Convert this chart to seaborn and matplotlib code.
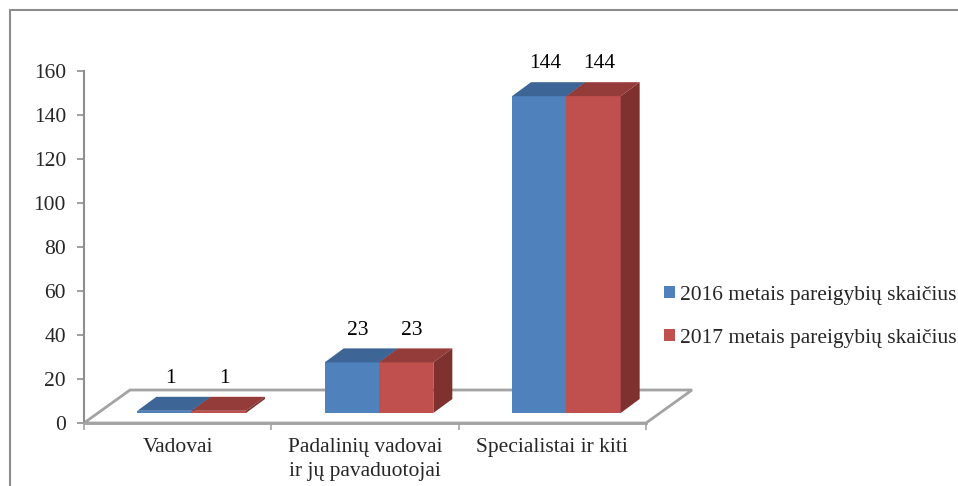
import pandas as pd
import matplotlib
matplotlib.use('Agg')
import matplotlib.pyplot as plt
import seaborn as sns
from matplotlib.patches import Polygon, Patch
from matplotlib.lines import Line2D

# Chart data
categories = ['Vadovai', 'Padalinių vadovai\nir jų pavaduotojai', 'Specialistai ir kiti']
series = ['2016 metais pareigybių skaičius', '2017 metais pareigybių skaičius']
values_2016 = [1, 23, 144]
values_2017 = [1, 23, 144]
yticks = [0, 20, 40, 60, 80, 100, 120, 140, 160]

# Excel-like 3D colours (front, top, side)
front_colors = ['#4F81BD', '#C0504D']
top_colors = ['#3D6596', '#943C3A']
side_colors = ['#34567F', '#7E312F']

df = pd.DataFrame({
    'cat': categories * 2,
    'series': [series[0]] * len(categories) + [series[1]] * len(categories),
    'value': values_2016 + values_2017,
})

sns.set_style('white')
plt.rcParams['font.family'] = ['Liberation Serif', 'DejaVu Serif']
FS = 15.5

W, H = 958, 486
fig = plt.figure(figsize=(W / 100, H / 100), dpi=100)
ax = fig.add_axes([84 / W, (H - 423) / H, (646 - 84) / W, (423 - 71) / H])

sns.barplot(data=df, x='cat', y='value', hue='series', palette=front_colors,
            width=0.58, saturation=1, errorbar=None, legend=False, ax=ax)

ax.set_xlim(-0.5, 2.5)
ax.set_ylim(0, 160)

# pixel -> data conversions for the fake 3D depth
px_x = (646 - 84) / 3
px_y = (423 - 71) / 160
floor_dx, floor_dy = 46 / px_x, 33 / px_y
bar_x0, bar_y0 = 14 / px_x, 10 / px_y
bar_dx, bar_dy = 19 / px_x, 14 / px_y

grid_gray = '#A3A3A3'
axis_gray = '#8E8E8E'

# floor
floor = Polygon([(-0.5, 0), (2.5, 0), (2.5 + floor_dx, floor_dy), (-0.5 + floor_dx, floor_dy)],
                closed=True, fill=False, edgecolor=grid_gray, lw=2, zorder=1, clip_on=False)
ax.add_patch(floor)

# turn the flat bars into boxes
n = len(categories)
bars = [p for p in ax.patches if not isinstance(p, Polygon)]
for i, p in enumerate(bars):
    s = i // n
    z = 3 + s
    x0 = p.get_x() + bar_x0
    w = p.get_width()
    h = p.get_height()
    p.set_x(x0)
    p.set_y(bar_y0)
    p.set_zorder(z)
    p.set_edgecolor('none')
    p.set_clip_on(False)
    ytop = bar_y0 + h
    ax.add_patch(Polygon([(x0, ytop), (x0 + w, ytop), (x0 + w + bar_dx, ytop + bar_dy), (x0 + bar_dx, ytop + bar_dy)],
                         closed=True, facecolor=top_colors[s], edgecolor='none', zorder=z + 0.1, clip_on=False))
    ax.add_patch(Polygon([(x0 + w, bar_y0), (x0 + w, ytop), (x0 + w + bar_dx, ytop + bar_dy), (x0 + w + bar_dx, bar_y0 + bar_dy)],
                         closed=True, facecolor=side_colors[s], edgecolor='none', zorder=z + 0.1, clip_on=False))
    ax.text(x0 + w / 2 + bar_dx * 0.3, ytop + bar_dy + 4, f'{int(h)}', ha='center', va='bottom',
            fontsize=FS, color='black', zorder=10)

# axes styling
for side in ['top', 'right']:
    ax.spines[side].set_visible(False)
ax.spines['left'].set_color(axis_gray)
ax.spines['left'].set_linewidth(1.5)
ax.spines['bottom'].set_color(grid_gray)
ax.spines['bottom'].set_linewidth(2)
ax.set_facecolor('none')

ax.set_yticks(yticks)
ax.set_yticklabels([str(t) for t in yticks], fontsize=FS)
ax.tick_params(axis='y', direction='out', length=5, width=1.2, color=axis_gray, pad=8, left=True)

ax.set_xticks([-0.5, 0.5, 1.5, 2.5])
ax.set_xticklabels([])
ax.set_xticks([0, 1, 2], minor=True)
ax.set_xticklabels(categories, minor=True, fontsize=FS, linespacing=1.35)
ax.tick_params(axis='x', which='major', direction='out', length=5, width=1.2, color=grid_gray, bottom=True)
ax.tick_params(axis='x', which='minor', length=0, pad=11)
ax.set_xlabel('')
ax.set_ylabel('')

# legend
handles = [Patch(facecolor=c, edgecolor='none') for c in front_colors]
fig.legend(handles, series, loc='upper left', bbox_to_anchor=(664 / W, 1 - 286 / H),
           frameon=False, fontsize=FS, handlelength=0.5, handleheight=0.5,
           handletextpad=0.25, labelspacing=1.1, borderpad=0, borderaxespad=0)

# outer chart border (top and left visible)
fig.add_artist(Line2D([10 / W, 1], [1 - 10 / H, 1 - 10 / H], transform=fig.transFigure, color='#8C8C8C', lw=1.5))
fig.add_artist(Line2D([10 / W, 10 / W], [0, 1 - 10 / H], transform=fig.transFigure, color='#8C8C8C', lw=1.5))

fig.savefig('out.png', dpi=100)
